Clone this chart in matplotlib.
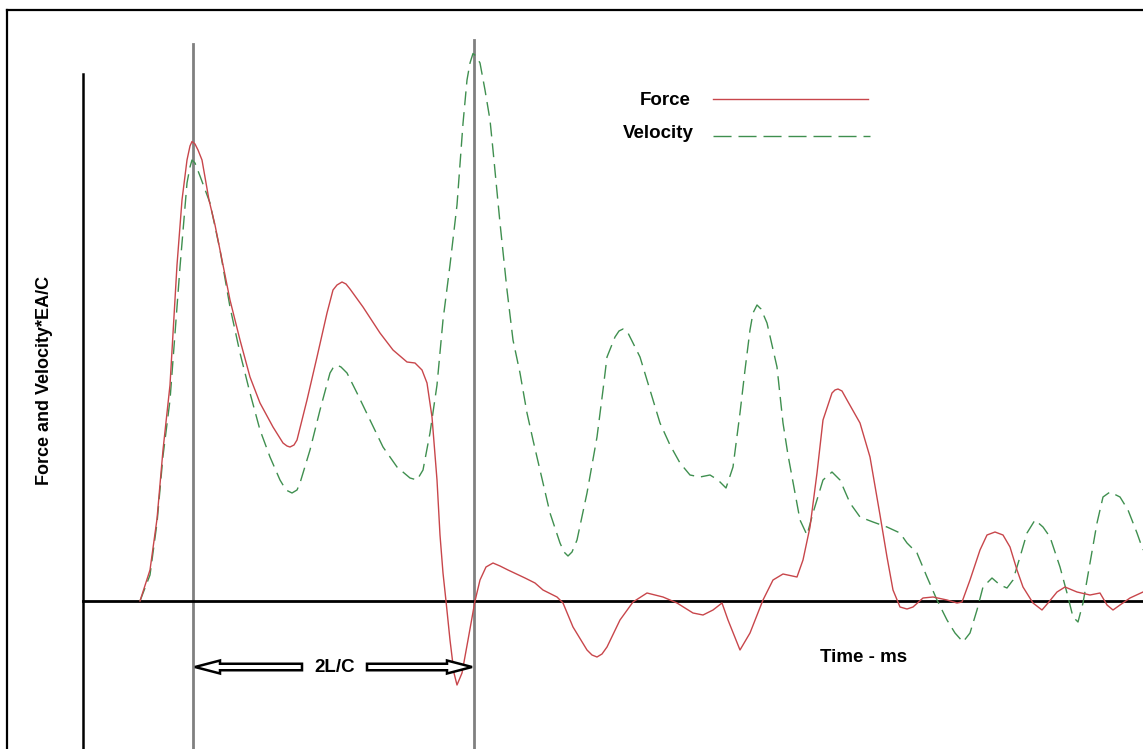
import matplotlib
matplotlib.use("Agg")
import matplotlib.pyplot as plt
from matplotlib.patches import FancyArrow
from matplotlib.lines import Line2D

plt.rcParams['font.family'] = ['Liberation Sans', 'DejaVu Sans']
plt.rcParams['lines.scale_dashes'] = False

# ---- data: (time, amplitude) (arbitrary units) ----
force_points = [
    (5.7, 0.0), (6.7, 6.2), (7.4, 16.4), (8.0, 30.2), (8.7, 43.2), (9.4, 67.2), (9.9, 80.2),
    (10.4, 88.2), (10.7, 91.0), (10.9, 91.9), (11.2, 91.4), (11.5, 90.2), (11.9, 88.2),
    (12.6, 80.2), (13.2, 75.2), (13.7, 70.2), (14.7, 60.2), (15.7, 52.2), (16.7, 44.8),
    (17.7, 39.6), (19.0, 34.8), (20.0, 31.6), (20.4, 31.0), (20.7, 30.8), (21.1, 31.2),
    (21.4, 32.2), (22.4, 40.2), (23.4, 48.8), (24.4, 57.6), (25.0, 62.2), (25.4, 63.2),
    (25.9, 63.8), (26.3, 63.4), (26.7, 62.4), (28.0, 58.8), (29.7, 53.6), (31.0, 50.2),
    (32.4, 47.8), (33.2, 47.6), (33.9, 46.2), (34.4, 43.6), (34.9, 36.8), (35.4, 24.2),
    (35.7, 13.2), (36.0, 5.6), (36.3, 0.0), (36.7, -7.8), (37.1, -14.4), (37.4, -16.8),
    (37.9, -14.4), (38.5, -7.8), (39.2, 0.0), (39.7, 4.2), (40.3, 6.8), (41.0, 7.6),
    (41.7, 7.0), (42.5, 6.2), (44.2, 4.6), (45.2, 3.6), (46.0, 2.2), (47.4, 0.8),
    (48.0, -0.4), (49.0, -5.2), (50.4, -9.8), (50.9, -10.8), (51.4, -11.2), (51.9, -10.6),
    (52.4, -9.2), (53.7, -3.8), (55.0, -0.2), (56.4, 1.6), (58.0, 0.8), (59.4, -0.4),
    (61.0, -2.4), (62.0, -2.8), (63.0, -1.8), (63.9, -0.4), (64.5, -3.8), (65.7, -9.8),
    (66.7, -6.4), (68.0, 0.2), (69.0, 4.2), (70.0, 5.4), (71.4, 4.8), (72.0, 8.2),
    (72.7, 14.8), (73.4, 25.6), (74.0, 36.2), (74.9, 41.6), (75.2, 42.2), (75.5, 42.4),
    (75.9, 42.0), (76.4, 40.2), (77.7, 35.6), (78.7, 28.8), (79.7, 17.2), (80.4, 8.8),
    (81.0, 2.2), (81.7, -1.2), (82.4, -1.6), (83.0, -1.2), (84.0, 0.6), (85.0, 0.8),
    (86.4, 0.2), (87.4, -0.4), (87.9, -0.2), (88.7, 4.2), (89.7, 10.2), (90.4, 13.2),
    (91.2, 13.8), (92.0, 13.2), (92.7, 10.8), (93.4, 6.2), (94.0, 2.8), (95.0, -0.4),
    (95.9, -1.8), (96.5, -0.4), (97.4, 1.8), (98.2, 2.8), (99.4, 1.8), (100.7, 1.2),
    (101.7, 1.6), (102.4, -0.8), (103.0, -1.8), (103.7, -0.8), (104.7, 0.6), (106.0, 1.8),
]

velocity_points = [
    (5.7, 0.0), (6.7, 5.2), (7.4, 15.6), (8.0, 29.0), (8.7, 40.2), (9.7, 66.8), (10.4, 83.6),
    (10.7, 86.8), (10.9, 88.2), (11.2, 87.6), (11.7, 85.0), (12.7, 79.6), (13.7, 70.2),
    (14.7, 58.8), (15.7, 49.6), (16.7, 41.6), (17.7, 34.2), (18.7, 28.8), (19.7, 24.2),
    (20.3, 22.2), (20.9, 21.6), (21.4, 22.2), (21.7, 23.6), (22.7, 30.2), (23.7, 38.2),
    (24.7, 45.6), (25.0, 46.6), (25.4, 47.2), (25.8, 46.8), (26.4, 45.6), (27.4, 41.6),
    (28.7, 36.2), (30.0, 30.8), (31.4, 26.8), (32.7, 24.6), (33.4, 24.2), (34.0, 26.2),
    (34.7, 33.6), (35.4, 43.2), (36.0, 56.2), (36.7, 67.2), (37.4, 79.2), (38.0, 95.5),
    (38.4, 104.2), (38.7, 107.6), (39.0, 109.5), (39.3, 109.0), (39.7, 107.6), (40.2, 102.2),
    (40.7, 96.2), (41.0, 90.2), (41.7, 75.6), (42.4, 62.2), (43.0, 52.2), (43.7, 45.6),
    (44.4, 37.6), (45.0, 32.2), (45.7, 26.2), (46.7, 17.6), (47.7, 11.6), (48.1, 9.8),
    (48.5, 9.0), (48.9, 9.8), (49.4, 12.2), (50.4, 21.6), (51.4, 32.8), (52.0, 42.2),
    (52.4, 48.8), (53.2, 52.8), (53.6, 54.0), (54.0, 54.4), (54.4, 54.0), (54.7, 52.8),
    (55.7, 48.8), (56.7, 42.2), (57.7, 35.6), (58.7, 31.2), (59.7, 27.6), (60.7, 25.2),
    (61.7, 24.8), (62.7, 25.2), (63.5, 24.2), (64.3, 22.6), (65.0, 26.8), (65.7, 37.6),
    (66.2, 46.2), (66.7, 54.2), (67.0, 57.6), (67.4, 59.2), (67.8, 58.4), (68.4, 55.6),
    (69.4, 46.8), (70.0, 35.6), (70.5, 29.2), (71.7, 16.2), (72.4, 13.2), (73.0, 17.6),
    (74.0, 24.2), (74.9, 25.8), (75.7, 24.2), (76.7, 19.6), (77.7, 16.8), (79.0, 15.8),
    (80.4, 14.8), (81.7, 13.6), (82.4, 11.6), (83.4, 9.6), (84.4, 4.8), (85.4, 0.2),
    (86.4, -3.8), (87.2, -6.4), (88.0, -8.2), (88.7, -6.4), (89.4, -1.8), (90.0, 2.8),
    (90.9, 4.6), (91.7, 3.2), (92.4, 2.6), (93.0, 4.2), (93.7, 8.8), (94.4, 13.6),
    (95.2, 16.2), (96.0, 14.8), (96.7, 12.8), (97.7, 6.8), (98.4, 1.6), (99.0, -3.2),
    (99.5, -4.2), (100.0, -0.4), (100.7, 7.6), (101.4, 15.6), (102.0, 20.8), (102.7, 21.8),
    (103.7, 20.8), (104.5, 18.2), (105.4, 13.6), (106.0, 10.2),
]

marker_times = [11.0, 39.1]          # 2L/C reference lines
labels = {"force": "Force", "velocity": "Velocity",
          "ylabel": "Force and Velocity*EA/C", "xlabel": "Time - ms", "span": "2L/C"}

force_t, force_v = zip(*force_points)
vel_t, vel_v = zip(*velocity_points)

RED = "#c8464b"
GREEN = "#3f8f4f"

fig = plt.figure(figsize=(11.43, 7.49), dpi=100)
ax = fig.add_axes([0, 0, 1, 1])
ax.set_xlim(-8.3, 106.0)
ax.set_ylim(-29.6, 120.2)
ax.axis('off')

# outer frame (top and left visible)
fig.add_artist(Line2D([7/1143, 1.0], [1 - 10/749, 1 - 10/749], color='black', lw=1.6,
                      transform=fig.transFigure))
fig.add_artist(Line2D([7/1143, 7/1143], [0, 1 - 10/749], color='black', lw=1.6,
                      transform=fig.transFigure))

# gray 2L/C lines
ax.plot([marker_times[0]] * 2, [-29.6, 111.4], color='#808080', lw=2.0, zorder=2)
ax.plot([marker_times[1]] * 2, [-29.6, 112.2], color='#808080', lw=2.0, zorder=2)

# axes lines
ax.plot([0, 0], [-29.6, 105.4], color='black', lw=1.8, zorder=3)
ax.plot([0, 106.0], [0, 0], color='black', lw=2.0, zorder=3)

# curves
ax.plot(vel_t, vel_v, color=GREEN, lw=1.0, ls=(0, (10, 5)), zorder=4,
        solid_joinstyle='round', dash_joinstyle='round')
ax.plot(force_t, force_v, color=RED, lw=1.0, zorder=5,
        solid_joinstyle='round')

# legend (drawn manually)
ax.text(60.8, 99.3, labels["force"], ha='right', va='baseline', fontsize=13.5,
        fontweight='bold')
ax.plot([63.0, 78.5], [100.5, 100.5], color=RED, lw=1.0)
ax.text(61.1, 92.6, labels["velocity"], ha='right', va='baseline', fontsize=13.5,
        fontweight='bold')
ax.plot([63.0, 78.7], [93.1, 93.1], color=GREEN, lw=1.0, ls=(0, (13, 5)))

# axis labels
ax.text(-3.8, 44.2, labels["ylabel"], rotation=90, ha='center', va='center',
        fontsize=13, fontweight='bold')
ax.text(73.7, -11.2, labels["xlabel"], ha='left', va='center', fontsize=13.5,
        fontweight='bold')

# 2L/C arrows
ay = -13.2
for x0, x1 in [(21.9, 11.2), (28.4, 38.9)]:
    ax.add_patch(FancyArrow(x0, ay, x1 - x0, 0, width=1.3, head_width=2.6,
                            head_length=2.5, length_includes_head=True,
                            facecolor='white', edgecolor='black', lw=1.8, zorder=6))
ax.text(25.15, ay, labels["span"], ha='center', va='center', fontsize=13.5,
        fontweight='bold')

fig.savefig("out.png", dpi=100)
